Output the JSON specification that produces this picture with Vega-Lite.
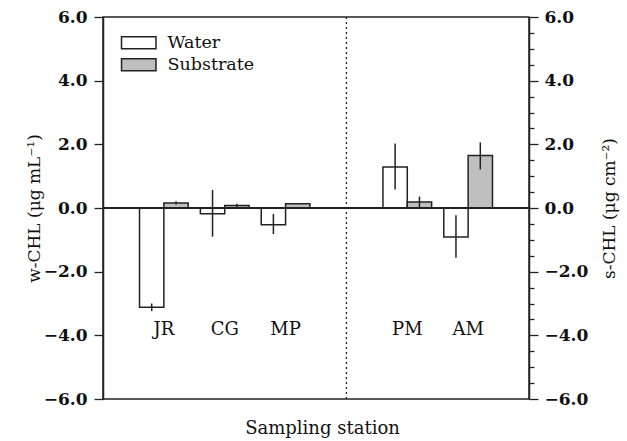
{
  "$schema": "https://vega.github.io/schema/vega-lite/v6.json",
  "width": 426,
  "height": 382,
  "autosize": "none",
  "padding": {"left": 103, "top": 17, "right": 98, "bottom": 42},
  "background": "white",
  "config": {
    "view": {"stroke": "#222", "strokeWidth": 1.5},
    "font": "DejaVu Serif",
    "axis": {
      "labelFont": "DejaVu Serif",
      "titleFont": "DejaVu Serif",
      "domainColor": "#222",
      "domainWidth": 1.5,
      "tickColor": "#222",
      "tickWidth": 1.3,
      "labelColor": "#111",
      "titleColor": "#111",
      "grid": false
    },
    "legend": {"labelFont": "DejaVu Serif"}
  },
  "data": {
    "values": [
      {"station": "JR", "series": "Water", "value": -3.12, "lo": -3.24, "hi": -3.0},
      {"station": "JR", "series": "Substrate", "value": 0.16, "lo": 0.11, "hi": 0.21},
      {"station": "CG", "series": "Water", "value": -0.18, "lo": -0.9, "hi": 0.57},
      {"station": "CG", "series": "Substrate", "value": 0.08, "lo": 0.03, "hi": 0.13},
      {"station": "MP", "series": "Water", "value": -0.53, "lo": -0.82, "hi": -0.19},
      {"station": "MP", "series": "Substrate", "value": 0.13, "lo": 0.13, "hi": 0.13},
      {"station": "PM", "series": "Water", "value": 1.29, "lo": 0.58, "hi": 2.03},
      {"station": "PM", "series": "Substrate", "value": 0.19, "lo": 0.02, "hi": 0.36},
      {"station": "AM", "series": "Water", "value": -0.91, "lo": -1.56, "hi": -0.23},
      {"station": "AM", "series": "Substrate", "value": 1.65, "lo": 1.21, "hi": 2.06}
    ]
  },
  "layer": [
    {
      "layer": [
        {
          "mark": {"type": "bar", "stroke": "#222", "strokeWidth": 1.5},
          "encoding": {
            "x": {
              "field": "station",
              "type": "nominal",
              "scale": {"domain": ["JR", "CG", "MP", "div", "PM", "AM"], "paddingInner": 0.2, "paddingOuter": 0.6},
              "axis": {
                "orient": "bottom",
                "domain": false,
                "ticks": false,
                "labelAngle": 0,
                "labelPadding": -70,
                "labelBaseline": "middle",
                "labelFontSize": 18,
                "labelFont": "DejaVu Serif",
                "labelExpr": "datum.value === 'div' ? '' : datum.value",
                "title": "Sampling station",
                "titleFont": "DejaVu Serif",
                "titleFontSize": 18,
                "titleFontWeight": "normal",
                "titleX": 219,
                "titleY": 34,
                "titleBaseline": "alphabetic"
              }
            },
            "xOffset": {
              "field": "series",
              "type": "nominal",
              "scale": {"domain": ["Water", "Substrate"], "paddingInner": 0, "paddingOuter": 0}
            },
            "y": {
              "field": "value",
              "type": "quantitative",
              "scale": {"domain": [-6, 6], "nice": false},
              "axis": {
                "orient": "left",
                "values": [-6, -5.5, -5, -4.5, -4, -3.5, -3, -2.5, -2, -1.5, -1, -0.5, 0, 0.5, 1, 1.5, 2, 2.5, 3, 3.5, 4, 4.5, 5, 5.5, 6],
                "format": ".1f",
                "labelExpr": "datum.value % 2 === 0 ? datum.label : ''",
                "labelOverlap": false,
                "labelFlush": false,
                "labelBound": false,
                "labelFontSize": 17,
                "labelFontWeight": "bold",
                "labelPadding": 7,
                "tickSize": {"condition": {"test": "datum.value % 2 === 0", "value": 9}, "value": 5},
                "title": "w-CHL (μg mL⁻¹)",
                "titleFontSize": 17,
                "titleFontWeight": "normal",
                "titleAngle": -90,
                "titleBaseline": "middle",
                "titleX": -69,
                "titleY": 191
              }
            },
            "fill": {
              "field": "series",
              "type": "nominal",
              "scale": {"domain": ["Water", "Substrate"], "range": ["#ffffff", "#bfbfbf"]},
              "legend": {
                "orient": "none",
                "legendX": 27,
                "legendY": 17,
                "title": null,
                "padding": 0,
                "symbolType": "M-2.5,-0.875H2.5V0.875H-2.5Z",
                "symbolSize": 190,
                "symbolStrokeColor": "#222",
                "symbolStrokeWidth": 1.5,
                "labelFont": "DejaVu Serif",
                "labelFontSize": 17.5,
                "labelColor": "#111",
                "labelOffset": 20,
                "rowPadding": 3
              }
            }
          }
        },
        {
          "mark": {"type": "rule", "color": "#222", "strokeWidth": 1.3},
          "encoding": {"y": {"datum": 0}}
        },
        {
          "data": {"values": [{}]},
          "mark": {"type": "rule", "color": "#222", "strokeWidth": 1.3, "strokeDash": [2, 3]},
          "encoding": {"x": {"datum": "div", "type": "nominal"}}
        }
      ]
    },
    {
      "layer": [
        {
          "mark": {"type": "rule", "color": "#222", "strokeWidth": 1.5},
          "encoding": {
            "x": {"field": "station", "type": "nominal"},
            "xOffset": {"field": "series", "type": "nominal"},
            "y": {
              "field": "lo",
              "type": "quantitative",
              "scale": {"domain": [-6, 6], "nice": false},
              "axis": {
                "orient": "right",
                "values": [-6, -5.5, -5, -4.5, -4, -3.5, -3, -2.5, -2, -1.5, -1, -0.5, 0, 0.5, 1, 1.5, 2, 2.5, 3, 3.5, 4, 4.5, 5, 5.5, 6],
                "format": ".1f",
                "labelExpr": "datum.value % 2 === 0 ? datum.label : ''",
                "labelOverlap": false,
                "labelFlush": false,
                "labelBound": false,
                "labelFontSize": 17,
                "labelFontWeight": "bold",
                "labelPadding": 6,
                "tickSize": {"condition": {"test": "datum.value % 2 === 0", "value": 9}, "value": 5},
                "title": "s-CHL (μg cm⁻²)",
                "titleFontSize": 17,
                "titleFontWeight": "normal",
                "titleAngle": -90,
                "titleBaseline": "middle",
                "titleX": 80,
                "titleY": 191
              }
            },
            "y2": {"field": "hi"}
          }
        }
      ]
    }
  ],
  "resolve": {"scale": {"y": "independent"}, "axis": {"y": "independent"}}
}
